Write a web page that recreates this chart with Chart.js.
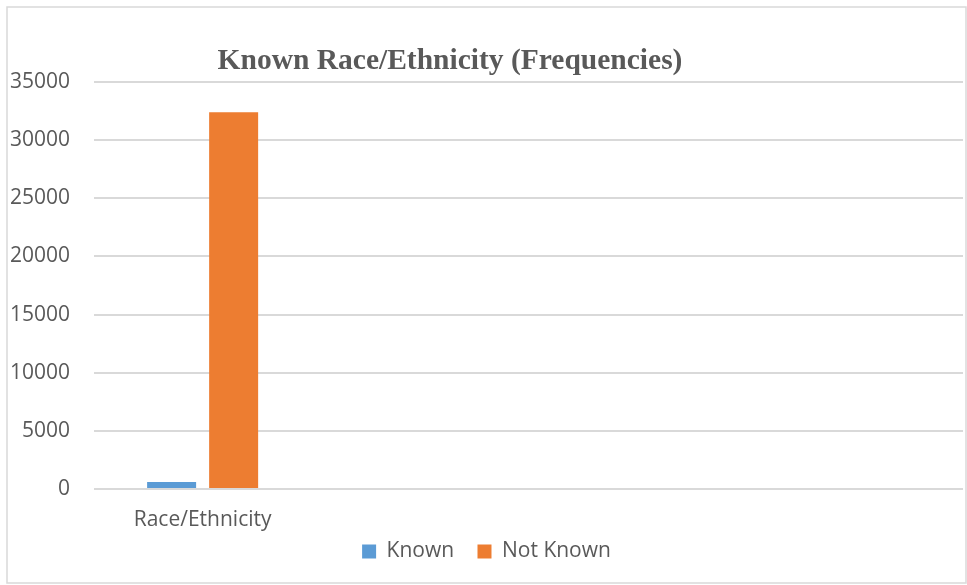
<!DOCTYPE html>
<html>
<head>
<meta charset="utf-8">
<script src="https://cdn.jsdelivr.net/npm/chart.js@4"></script>
<style>
  html, body { margin: 0; padding: 0; background: #fff; }
  #wrap { width: 967px; height: 585px; }
</style>
</head>
<body>
<div id="wrap"><canvas id="chart" width="967" height="585"></canvas></div>
<script>
// chart data
const categories = ["Race/Ethnicity", "", "", ""];
const seriesNames = ["Known", "Not Known"];
const knownValues = [600, null, null, null];
const notKnownValues = [32400, null, null, null];
const yTicks = [0, 5000, 10000, 15000, 20000, 25000, 30000, 35000];
const chartTitle = "Known Race/Ethnicity (Frequencies)";

const textColor = "#595959";
const gridColor = "#d9d9d9";

// excel-style outer frame and off-centre title
const framePlugin = {
  id: "frame",
  beforeDraw(chart) {
    const ctx = chart.ctx;
    ctx.save();
    ctx.fillStyle = "#fff";
    ctx.fillRect(0, 0, chart.width, chart.height);
    ctx.strokeStyle = gridColor;
    ctx.lineWidth = 1.5;
    ctx.strokeRect(7, 7, 959, 576);
    ctx.restore();
  },
  afterDraw(chart) {
    const ctx = chart.ctx;
    ctx.save();
    ctx.font = "bold 29.5px 'Liberation Serif', 'Times New Roman', serif";
    ctx.fillStyle = textColor;
    ctx.textAlign = "center";
    ctx.textBaseline = "alphabetic";
    ctx.fillText(chartTitle, 450, 69);
    ctx.restore();
  }
};

const ctx = document.getElementById("chart").getContext("2d");

new Chart(ctx, {
  type: "bar",
  data: {
    labels: categories,
    datasets: [
      {
        label: seriesNames[0],
        data: knownValues,
        backgroundColor: "#5B9BD5",
        categoryPercentage: 0.571,
        barPercentage: 0.79
      },
      {
        label: seriesNames[1],
        data: notKnownValues,
        backgroundColor: "#ED7D31",
        categoryPercentage: 0.571,
        barPercentage: 0.79
      }
    ]
  },
  options: {
    responsive: false,
    animation: false,
    layout: {
      padding: { left: 10, right: 4, top: 82, bottom: 13 }
    },
    plugins: {
      title: { display: false },
      tooltip: { enabled: false },
      legend: {
        position: "bottom",
        labels: {
          boxWidth: 14,
          boxHeight: 14,
          padding: 7,
          color: textColor,
          font: { family: "'Open Sans', sans-serif", size: 21 },
          // widen the gap between the two entries a bit
          generateLabels(chart) {
            const items = Chart.defaults.plugins.legend.labels.generateLabels(chart);
            items.forEach((it, i) => {
              if (i < items.length - 1) it.text = it.text + "   ";
            });
            return items;
          }
        }
      }
    },
    scales: {
      x: {
        grid: { display: false, drawTicks: false },
        border: { display: false },
        ticks: {
          color: textColor,
          padding: 18,
          maxRotation: 0,
          autoSkip: false,
          font: { family: "'Open Sans', sans-serif", size: 21 }
        },
        afterFit(scale) { scale.height = 45; }
      },
      y: {
        min: 0,
        max: 35000,
        afterBuildTicks(scale) {
          scale.ticks = yTicks.map(v => ({ value: v }));
        },
        grid: { color: gridColor, lineWidth: 2, drawTicks: false },
        border: { display: false },
        ticks: {
          color: textColor,
          padding: 24,
          font: { family: "'Open Sans', sans-serif", size: 21 },
          callback: (value) => String(value)
        },
        afterFit(scale) { scale.width = 84; }
      }
    }
  },
  plugins: [framePlugin]
});
</script>
</body>
</html>
